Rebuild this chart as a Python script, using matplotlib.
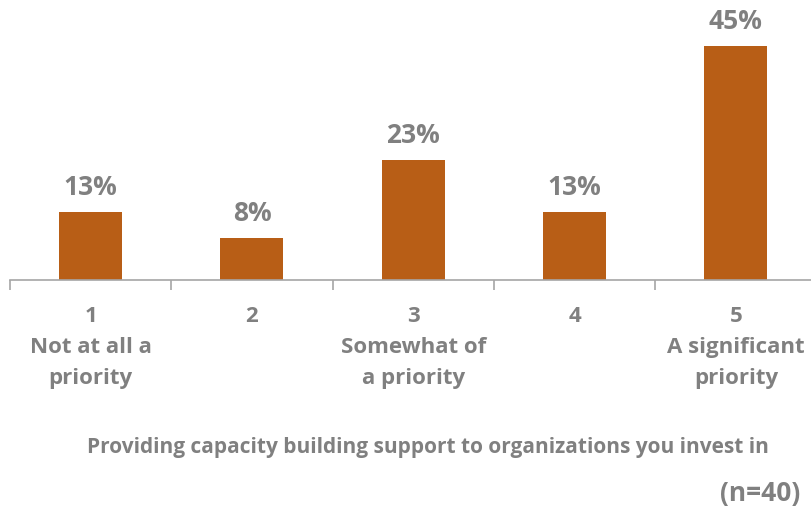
import numpy as np
import matplotlib.pyplot as plt

# данные
categories = ['1\nNot at all a\npriority', '2', '3\nSomewhat of\na priority', '4', '5\nA significant\npriority']
values = [13, 8, 23, 13, 45]
xlabel = 'Providing capacity building support to organizations you invest in'
note = '(n=40)'

bar_color = '#B85E16'
text_color = '#808080'
axis_color = '#A6A6A6'

plt.rcParams['font.family'] = ['Open Sans', 'DejaVu Sans']

fig = plt.figure(figsize=(8.11, 5.08), dpi=100)
W, H = 811, 508
# оси: нижняя граница на y=280 пикс от верха
ax = fig.add_axes([10 / W, 228 / H, 806.5 / W, 260 / H])

x = np.arange(len(values))
ax.bar(x, values, width=0.39, color=bar_color)
for xi, v in zip(x, values):
    ax.text(xi, v + 2.2, f'{v}%', ha='center', va='bottom', fontsize=19,
            fontweight='bold', color=text_color)

ax.set_xlim(-0.5, len(values) - 0.5)
ax.set_ylim(0, 50)
ax.set_yticks([])
for s in ['top', 'right', 'left']:
    ax.spines[s].set_visible(False)
ax.spines['bottom'].set_color(axis_color)
ax.spines['bottom'].set_linewidth(1.2)

ax.set_xticks(x)
ax.set_xticklabels(categories, fontsize=16, fontweight='bold', color=text_color,
                   linespacing=1.6)
ax.tick_params(axis='x', which='major', length=0, pad=19)
ax.set_xticks(np.arange(-0.5, len(values), 1.0), minor=True)
ax.tick_params(axis='x', which='minor', length=7, width=1.2, color=axis_color, direction='out')

fig.text(428 / W, 1 - 447 / H, xlabel, ha='center', va='center', fontsize=15,
         fontweight='bold', color=text_color)
fig.text(800 / W, 1 - 493 / H, note, ha='right', va='center', fontsize=19,
         fontweight='bold', color=text_color)

fig.savefig('out.png', dpi=100)
